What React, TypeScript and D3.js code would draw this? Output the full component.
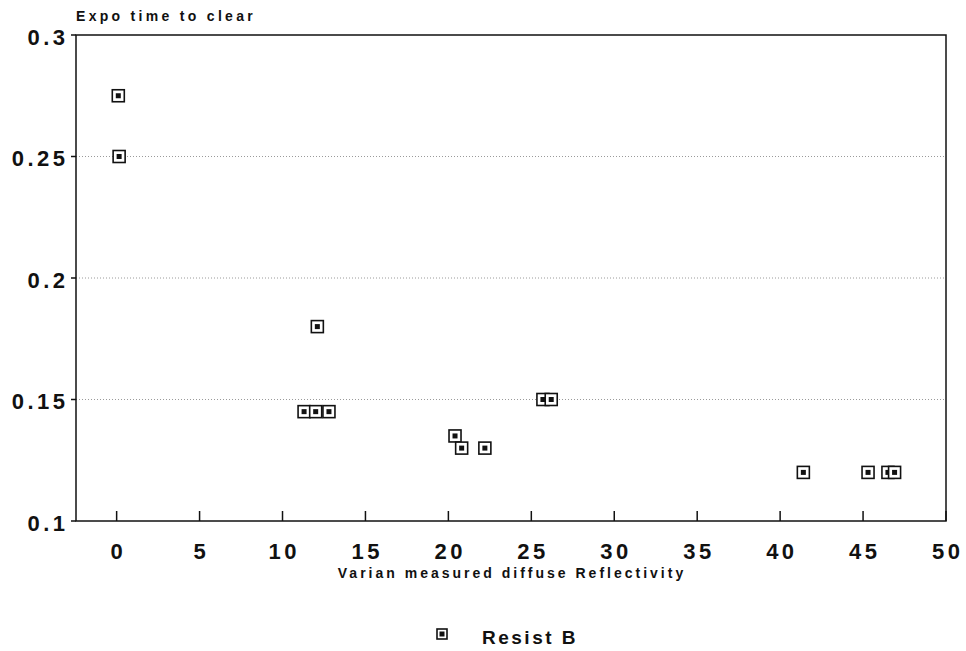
import { useRef, useEffect } from 'react';
import * as d3 from 'd3';

// Resist B measurements: reflectivity (%) vs exposure time to clear
const reflectivity = [0.1, 0.15, 12.1, 11.3, 12.0, 12.8, 20.4, 20.8, 22.2, 25.7, 26.2, 41.4, 45.3, 46.5, 46.9];
const expoTime     = [0.275, 0.25, 0.18, 0.145, 0.145, 0.145, 0.135, 0.13, 0.13, 0.15, 0.15, 0.12, 0.12, 0.12, 0.12];
const xTicks = [0, 5, 10, 15, 20, 25, 30, 35, 40, 45, 50];
const yTicks = [0.1, 0.15, 0.2, 0.25, 0.3];
const gridTicks = [0.15, 0.2, 0.25];
const seriesName = 'Resist B';

const FONT = '"Liberation Sans", Arial, Helvetica, sans-serif';
const TICK_LS = 3.5;

export default function App() {
  const ref = useRef<SVGSVGElement>(null);

  useEffect(() => {
    const svg = d3.select(ref.current);
    svg.selectAll('*').remove();

    const W = 966, H = 651;
    const m = { top: 35, right: 20, bottom: 130, left: 76 };
    const iw = W - m.left - m.right;
    const ih = H - m.top - m.bottom;

    const x = d3.scaleLinear().domain([-2.45, 50]).range([0, iw]);
    const y = d3.scaleLinear().domain([0.1, 0.3]).range([ih, 0]);

    const g = svg.append('g').attr('transform', `translate(${m.left},${m.top})`);

    // dotted grid
    g.selectAll('line.grid').data(gridTicks).enter().append('line')
      .attr('x1', 0).attr('x2', iw)
      .attr('y1', d => y(d)).attr('y2', d => y(d))
      .attr('stroke', '#9a9a9a').attr('stroke-width', 1).attr('stroke-dasharray', '1,2');

    // frame
    g.append('rect').attr('width', iw).attr('height', ih)
      .attr('fill', 'none').attr('stroke', '#111').attr('stroke-width', 1.5);

    // y ticks + labels
    g.selectAll('line.yt').data(yTicks).enter().append('line')
      .attr('x1', -5).attr('x2', 0)
      .attr('y1', d => y(d)).attr('y2', d => y(d))
      .attr('stroke', '#111').attr('stroke-width', 1.5);
    g.selectAll('text.yl').data(yTicks).enter().append('text')
      .attr('x', -11 + TICK_LS).attr('y', d => y(d) + 9.5)
      .attr('text-anchor', 'end')
      .style('font-family', FONT).style('font-size', '22px').style('font-weight', '700')
      .style('letter-spacing', `${TICK_LS}px`)
      .attr('fill', '#111')
      .text(d => String(d));

    // x ticks + labels
    g.selectAll('line.xt').data(xTicks).enter().append('line')
      .attr('x1', d => x(d)).attr('x2', d => x(d))
      .attr('y1', ih).attr('y2', ih - 10)
      .attr('stroke', '#111').attr('stroke-width', 1.5);
    g.selectAll('text.xl').data(xTicks).enter().append('text')
      .attr('x', d => x(d) + TICK_LS / 2).attr('y', ih + 38)
      .attr('text-anchor', 'middle')
      .style('font-family', FONT).style('font-size', '22px').style('font-weight', '700')
      .style('letter-spacing', `${TICK_LS}px`)
      .attr('fill', '#111')
      .text(d => String(d));

    // axis titles
    svg.append('text')
      .attr('x', 76).attr('y', 21)
      .style('font-family', FONT).style('font-size', '14px').style('font-weight', '700')
      .style('letter-spacing', '3.3px')
      .attr('fill', '#111')
      .text('Expo time to clear');
    svg.append('text')
      .attr('x', 512).attr('y', 578)
      .attr('text-anchor', 'middle')
      .style('font-family', FONT).style('font-size', '14px').style('font-weight', '700')
      .style('letter-spacing', '3px')
      .attr('fill', '#111')
      .text('Varian measured diffuse Reflectivity');

    // markers
    const drawMarker = (sel: any, cx: number, cy: number, s: number) => {
      sel.append('rect')
        .attr('x', cx - s / 2).attr('y', cy - s / 2).attr('width', s).attr('height', s)
        .attr('fill', '#fff').attr('stroke', '#111').attr('stroke-width', 1.6);
      sel.append('rect')
        .attr('x', cx - 2.5).attr('y', cy - 2.5).attr('width', 5).attr('height', 5)
        .attr('fill', '#111');
    };
    reflectivity.forEach((r, i) => drawMarker(g, x(r), y(expoTime[i]), 12));

    // legend
    drawMarker(svg, 442, 634, 10);
    svg.append('text')
      .attr('x', 482).attr('y', 644)
      .style('font-family', FONT).style('font-size', '19px').style('font-weight', '700')
      .style('letter-spacing', '2.5px')
      .attr('fill', '#111')
      .text(seriesName);
  }, []);

  return (
    <svg ref={ref} width={966} height={651}
      style={{ position: 'absolute', left: 0, top: 0, background: '#fff' }} />
  );
}
